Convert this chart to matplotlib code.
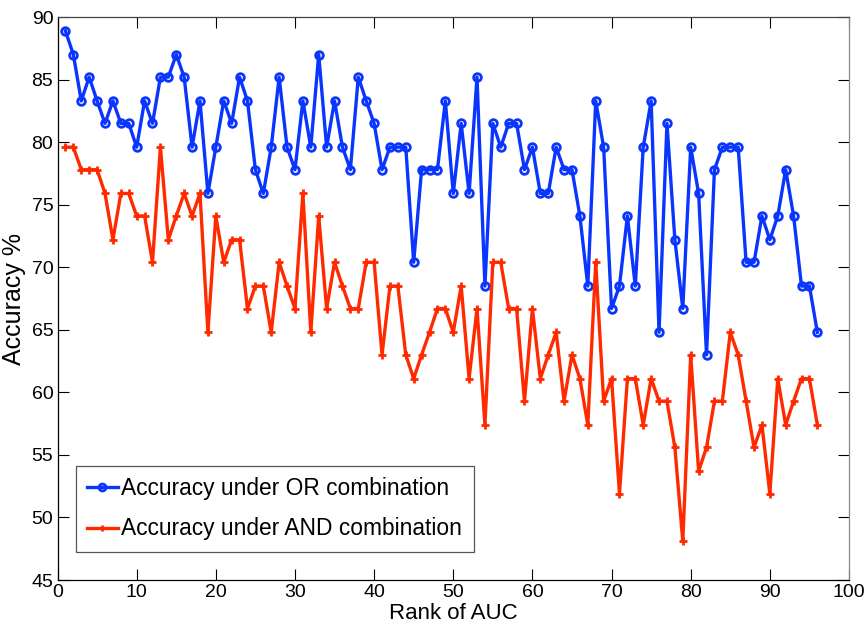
import matplotlib
matplotlib.use("Agg")
import matplotlib.pyplot as plt

plt.rcParams['font.family'] = ['Liberation Sans', 'DejaVu Sans']

# rank of AUC
rank = list(range(1, 97))

# accuracy under OR combination (%)
acc_or = [88.9, 87.0, 83.3, 85.2, 83.3, 81.5, 83.3, 81.5, 81.5, 79.6,
          83.3, 81.5, 85.2, 85.2, 87.0, 85.2, 79.6, 83.3, 75.9, 79.6,
          83.3, 81.5, 85.2, 83.3, 77.8, 75.9, 79.6, 85.2, 79.6, 77.8,
          83.3, 79.6, 87.0, 79.6, 83.3, 79.6, 77.8, 85.2, 83.3, 81.5,
          77.8, 79.6, 79.6, 79.6, 70.4, 77.8, 77.8, 77.8, 83.3, 75.9,
          81.5, 75.9, 85.2, 68.5, 81.5, 79.6, 81.5, 81.5, 77.8, 79.6,
          75.9, 75.9, 79.6, 77.8, 77.8, 74.1, 68.5, 83.3, 79.6, 66.7,
          68.5, 74.1, 68.5, 79.6, 83.3, 64.8, 81.5, 72.2, 66.7, 79.6,
          75.9, 63.0, 77.8, 79.6, 79.6, 79.6, 70.4, 70.4, 74.1, 72.2,
          74.1, 77.8, 74.1, 68.5, 68.5, 64.8]

# accuracy under AND combination (%)
acc_and = [79.6, 79.6, 77.8, 77.8, 77.8, 75.9, 72.2, 75.9, 75.9, 74.1,
           74.1, 70.4, 79.6, 72.2, 74.1, 75.9, 74.1, 75.9, 64.8, 74.1,
           70.4, 72.2, 72.2, 66.7, 68.5, 68.5, 64.8, 70.4, 68.5, 66.7,
           75.9, 64.8, 74.1, 66.7, 70.4, 68.5, 66.7, 66.7, 70.4, 70.4,
           63.0, 68.5, 68.5, 63.0, 61.1, 63.0, 64.8, 66.7, 66.7, 64.8,
           68.5, 61.1, 66.7, 57.4, 70.4, 70.4, 66.7, 66.7, 59.3, 66.7,
           61.1, 63.0, 64.8, 59.3, 63.0, 61.1, 57.4, 70.4, 59.3, 61.1,
           51.9, 61.1, 61.1, 57.4, 61.1, 59.3, 59.3, 55.6, 48.1, 63.0,
           53.7, 55.6, 59.3, 59.3, 64.8, 63.0, 59.3, 55.6, 57.4, 51.9,
           61.1, 57.4, 59.3, 61.1, 61.1, 57.4]

blue = '#0a35ff'
red = '#ff2a00'

fig = plt.figure(figsize=(8.65, 6.39), dpi=100)
ax = fig.add_axes([0.0665, 0.0923, 0.915, 0.881])

ax.plot(rank, acc_or, color=blue, lw=2.4, marker='o', ms=5.5,
        mfc='none', mec=blue, mew=2.0, label='Accuracy under OR combination')
ax.plot(rank, acc_and, color=red, lw=2.4, marker='+', ms=6,
        mec=red, mew=2.0, label='Accuracy under AND combination')

ax.set_xlim(0, 100)
ax.set_ylim(45, 90)
ax.set_xticks(range(0, 101, 10))
ax.set_yticks(range(45, 91, 5))
ax.tick_params(direction='in', length=8, width=0.8, top=True, right=True,
               labelsize=14, pad=3)
for sp in ax.spines.values():
    sp.set_linewidth(0.9)
ax.spines['right'].set_color('#888888')
ax.spines['top'].set_color('#444444')

ax.set_xlabel('Rank of AUC', fontsize=16, labelpad=1)
ax.set_ylabel('Accuracy %', fontsize=18, labelpad=4)

leg = ax.legend(loc='lower left', bbox_to_anchor=(0.023, 0.05), fontsize=16.4,
                handlelength=1.35, handletextpad=0.15, borderpad=0.5,
                labelspacing=0.75, fancybox=False, framealpha=1,
                edgecolor='#555555', borderaxespad=0)
leg.get_frame().set_linewidth(0.9)
for h in leg.legend_handles:
    h.set_markersize(5)

fig.savefig('out.png', dpi=100)
